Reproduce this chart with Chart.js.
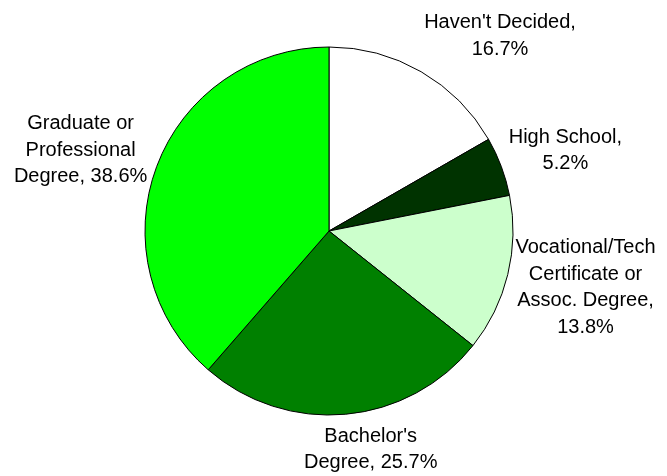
<!DOCTYPE html>
<html>
<head>
<meta charset="utf-8">
<script src="https://cdn.jsdelivr.net/npm/chart.js@4.4.1/dist/chart.umd.min.js"></script>
<style>
  html, body { margin: 0; padding: 0; background: #ffffff; }
  #wrap { width: 667px; height: 476px; position: relative; }
</style>
</head>
<body>
<div id="wrap"><canvas id="c" width="667" height="476"></canvas></div>
<script>
// ---- data ----
const categories = [
  "Haven't Decided",
  "High School",
  "Vocational/Tech Certificate or Assoc. Degree",
  "Bachelor's Degree",
  "Graduate or Professional Degree"
];
const values = [16.7, 5.2, 13.8, 25.7, 38.6];
// label text lines; the value with "%" is appended to the last line
const labelLines = [
  ["Haven't Decided,", ""],
  ["High School,", ""],
  ["Vocational/Tech", "Certificate or", "Assoc. Degree,", ""],
  ["Bachelor's", "Degree, "],
  ["Graduate or", "Professional", "Degree, "]
];
const sliceColors = ["#FFFFFF", "#003300", "#CCFFCC", "#008000", "#00FF00"];

// ---- label plugin: positions derived from each arc's geometry ----
const outsideLabels = {
  id: 'outsideLabels',
  afterDatasetsDraw(chart, args, opts) {
    const ctx = chart.ctx;
    const meta = chart.getDatasetMeta(0);
    ctx.save();
    ctx.font = opts.font;
    ctx.fillStyle = opts.color;
    ctx.textAlign = 'center';
    ctx.textBaseline = 'middle';
    meta.data.forEach((arc, i) => {
      const p = arc.getProps(['x', 'y', 'startAngle', 'endAngle', 'outerRadius'], true);
      const mid = (p.startAngle + p.endAngle) / 2;
      const cos = Math.cos(mid), sin = Math.sin(mid);
      const ax = p.x + cos * (p.outerRadius + opts.gap);
      const ay = p.y + sin * (p.outerRadius + opts.gap);
      const lines = labelLines[i].slice();
      lines[lines.length - 1] = lines[lines.length - 1] + values[i].toFixed(1) + '%';
      const w = Math.max(...lines.map(l => ctx.measureText(l).width));
      const h = lines.length * opts.lineHeight;
      let cx;
      if (cos > 0.2) cx = ax + w / 2 - 2;
      else if (cos < -0.2) cx = ax - w / 2;
      else cx = ax + cos * w / 2;
      let cy = ay + sin * h / 2;
      const nd = (opts.nudge && opts.nudge[i]) || [0, 0];
      cx += nd[0]; cy += nd[1];
      lines.forEach((l, k) => {
        ctx.fillText(l, cx, cy - h / 2 + opts.lineHeight * (k + 0.5));
      });
    });
    ctx.restore();
  }
};

new Chart(document.getElementById('c'), {
  type: 'pie',
  data: {
    labels: categories,
    datasets: [{
      data: values,
      backgroundColor: sliceColors,
      borderColor: '#000000',
      borderWidth: 1,
      borderAlign: 'center',
      hoverOffset: 0
    }]
  },
  options: {
    responsive: false,
    animation: false,
    devicePixelRatioOverride: 1,
    radius: 184,
    layout: { padding: { left: 145, right: 154, top: 47, bottom: 61 } },
    plugins: {
      legend: { display: false },
      tooltip: { enabled: false },
      outsideLabels: {
        font: '20px "Liberation Sans", Arial, sans-serif',
        color: '#000000',
        lineHeight: 26.5,
        gap: 10,
        nudge: [[0, -4], [0, -3], [0, -2], [18, -1], [0, 1]]
      }
    }
  },
  plugins: [outsideLabels]
});
</script>
</body>
</html>
